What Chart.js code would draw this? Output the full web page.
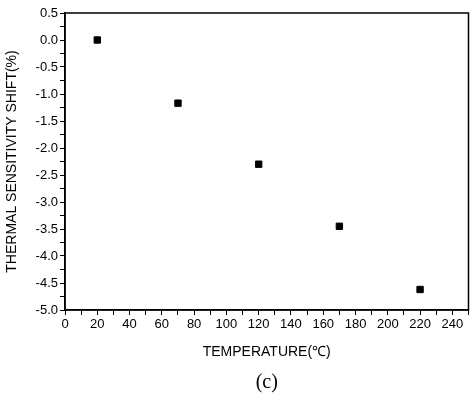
<!DOCTYPE html>
<html><head><meta charset="utf-8">
<script src="https://cdn.jsdelivr.net/npm/chart.js@4/dist/chart.umd.min.js"></script>
<style>html,body{margin:0;padding:0;background:#fff}#w{width:474px;height:405px}</style>
</head><body><div id="w"><canvas id="c"></canvas></div>
<script>
const temperatures = [20, 70, 120, 170, 220];
const shifts = [0.0, -1.17, -2.3, -3.45, -4.62];
const xTitle = 'TEMPERATURE(\u2103)';
const yTitle = 'THERMAL SENSITIVITY SHIFT(%)';
const panelLabel = '(c)';

const frame = {
  id: 'frame',
  afterDraw(ch) {
    const {ctx, chartArea: a} = ch;
    ctx.save();
    ctx.strokeStyle = '#000'; ctx.lineWidth = 1.5;
    ctx.strokeRect(a.left, a.top, a.right - a.left, a.bottom - a.top);
    ctx.fillStyle = '#000';
    ctx.textAlign = 'center'; ctx.textBaseline = 'middle';
    ctx.font = '14px Arial, "Liberation Sans", sans-serif';
    ctx.fillText(xTitle, (a.left + a.right) / 2, 352);
    ctx.font = '20px "Liberation Serif", serif';
    ctx.fillText(panelLabel, (a.left + a.right) / 2, 383);
    ctx.restore();
  }
};
const font = {family: 'Arial, "Liberation Sans", sans-serif', size: 13};
new Chart(document.getElementById('c'), {
  type: 'scatter',
  data: {datasets: [{data: temperatures.map((t, i) => ({x: t, y: shifts[i]})),
    backgroundColor: '#000', borderColor: '#000', pointStyle: 'rect', pointRadius: 4.5}]},
  options: {
    responsive: true, maintainAspectRatio: false, animation: false,
    layout: {padding: {top: 13, right: 5, left: 0, bottom: 0}},
    plugins: {legend: {display: false}, tooltip: {enabled: false}},
    scales: {
      x: {
        min: 0, max: 250,
        afterBuildTicks(s) { const t = []; for (let v = 0; v <= 250; v += 10) t.push({value: v}); s.ticks = t; },
        afterFit(s) { s.height = 95; },
        grid: {drawOnChartArea: false, tickLength: 5, color: '#000', tickColor: '#000'},
        border: {color: '#000', width: 1.5},
        ticks: {color: '#000', font, padding: 2, maxRotation: 0, autoSkip: false,
          callback: v => (v % 20 === 0 && v <= 240) ? String(v) : ''}
      },
      y: {
        min: -5, max: 0.5,
        afterBuildTicks(s) { const t = []; for (let v = -5; v <= 0.5001; v += 0.25) t.push({value: Math.round(v * 100) / 100}); s.ticks = t; },
        afterFit(s) { s.width = 65; },
        grid: {drawOnChartArea: false, tickLength: 5, color: '#000', tickColor: '#000'},
        border: {color: '#000', width: 1.5},
        ticks: {color: '#000', font, padding: 2, autoSkip: false,
          callback: v => (Math.abs(v * 2 - Math.round(v * 2)) < 1e-6) ? v.toFixed(1) : ''},
        title: {display: true, text: yTitle, color: '#000', font: {family: font.family, size: 14}, padding: {bottom: 0}}
      }
    }
  },
  plugins: [frame]
});
</script></body></html>
